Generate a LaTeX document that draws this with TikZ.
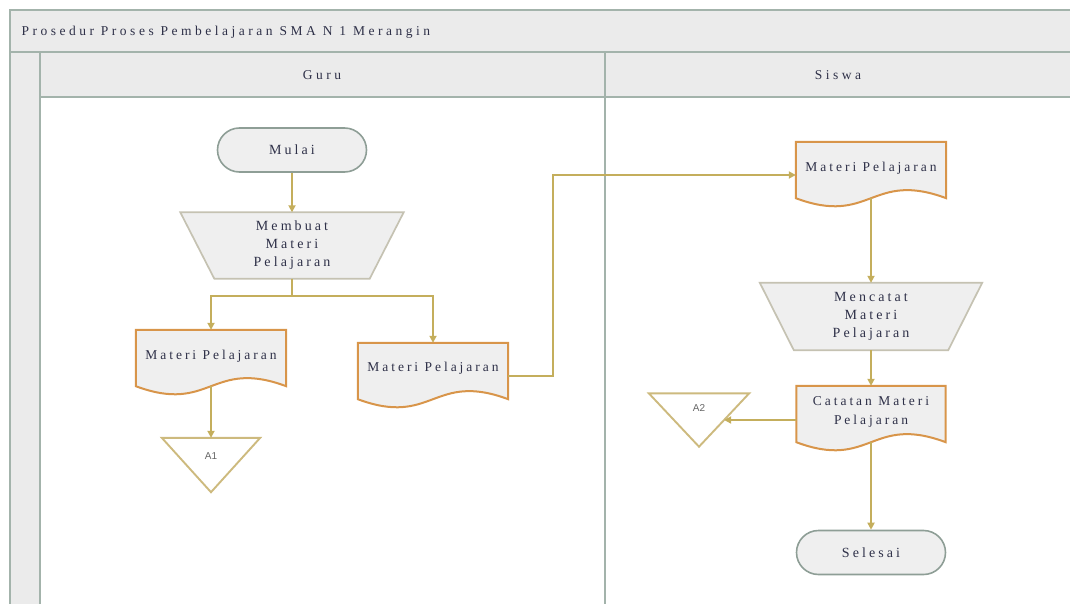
\documentclass[tikz,border=0pt]{standalone}
\usepackage{fontspec}
\setmainfont{Liberation Serif}
\newfontfamily\lblfont{Liberation Serif}[LetterSpace=22]
\newfontfamily\ttlfont{Liberation Serif}[LetterSpace=26]
\newfontfamily\smfont{Liberation Sans}
\usetikzlibrary{calc,arrows.meta}
\definecolor{lanebd}{HTML}{A3B3AB}
\definecolor{hdrfill}{HTML}{EBEBEB}
\definecolor{arrowc}{HTML}{C4AE5C}
\definecolor{docbd}{HTML}{D8954A}
\definecolor{shapefill}{HTML}{EFEFEF}
\definecolor{trapbd}{HTML}{C5C2B2}
\definecolor{termbd}{HTML}{8E9E96}
\definecolor{tribd}{HTML}{CDBA7E}
\definecolor{txt}{HTML}{2E3048}
\tikzset{
  lane/.style={draw=lanebd, line width=2pt},
  flow/.style={draw=arrowc, line width=1.9pt, -{Triangle[length=7pt,width=7pt]}},
  flowline/.style={draw=arrowc, line width=1.9pt},
  terminal/.style={draw=termbd, line width=1.6pt, fill=shapefill, rounded corners=22pt,
    minimum width=149pt, minimum height=44pt, font=\lblfont\fontsize{14}{16}\selectfont, text=txt},
  docbox/.style={minimum width=150pt, minimum height=56pt, inner sep=0pt},
  doctext/.style={align=center, inner sep=0pt, font=\lblfont\fontsize{13.5}{19}\selectfont, text=txt},
  docline/.style={draw=docbd, line width=2pt, fill=shapefill},
  trapbox/.style={minimum width=223pt, minimum height=66pt, inner sep=1pt},
  traptext/.style={align=center, inner sep=0pt, font=\lblfont\fontsize{14}{18}\selectfont, text=txt},
  trapline/.style={draw=trapbd, line width=1.7pt, fill=shapefill},
  tribox/.style={minimum width=98pt, minimum height=54pt, inner sep=0pt},
  triline/.style={draw=tribd, line width=1.9pt, fill=white},
  trilabel/.style={font=\smfont\fontsize{10}{11}\selectfont, text=black!60},
  hdrtext/.style={font=\ttlfont\fontsize{13.5}{15}\selectfont, text=txt}
}
\newcommand{\docoutline}[1]{%
  \path[docline] (#1.north west) -- (#1.north east) -- (#1.south east)
    .. controls ($(#1.south)+(0,28)$) and ($(#1.south)+(0,-28)$) .. (#1.south west) -- cycle;}
\newcommand{\trapoutline}[2]{%
  \path[trapline] (#1.north west) -- (#1.north east) -- ([xshift=-#2]#1.south east) -- ([xshift=#2]#1.south west) -- cycle;}
\newcommand{\trioutline}[1]{%
  \path[triline] (#1.north west) -- (#1.north east) -- (#1.south) -- cycle;}
\begin{document}
\begin{tikzpicture}[x=1pt,y=1pt]
\useasboundingbox (0,0) rectangle (1070,-604);
% swimlane frame
\fill[hdrfill] (10,-10) rectangle (1075,-97);
\fill[hdrfill] (10,-97) rectangle (40,-610);
\draw[lane] (1075,-10) -- (10,-10) -- (10,-610);
\draw[lane] (10,-52) -- (1075,-52);
\draw[lane] (40,-52) -- (40,-610);
\draw[lane] (40,-97) -- (1075,-97);
\draw[lane] (605,-52) -- (605,-610);
\node[hdrtext, anchor=west] (title) at (18,-32) {Prosedur Proses Pembelajaran SMA N 1 Merangin};
\node[hdrtext] (guru) at (322,-75) {Guru};
\node[hdrtext] (siswa) at (838,-75) {Siswa};
% Guru lane
\node[terminal] (mulai) at (292,-150) {Mulai};
\node[trapbox] (membuat) at (292,-245.5) {};
\trapoutline{membuat}{34pt}
\node[traptext] (membuatT) at (292,-245.5) {Membuat\\Materi\\Pelajaran};
\node[docbox] (d1) at (211,-358) {};
\docoutline{d1}
\node[doctext] (d1t) at ([yshift=-26pt]d1.north) {Materi Pelajaran};
\node[docbox] (d2) at (433,-371) {};
\docoutline{d2}
\node[doctext] (d2t) at ([yshift=-25pt]d2.north) {Materi Pelajaran};
\node[tribox] (a1) at (211,-465) {};
\trioutline{a1}
\node[trilabel] (a1t) at ([yshift=-18pt]a1.north) {A1};
% Siswa lane
\node[docbox] (d3) at (871,-170) {};
\docoutline{d3}
\node[doctext] (d3t) at ([yshift=-26pt]d3.north) {Materi Pelajaran};
\node[trapbox, minimum width=222pt, minimum height=67pt] (mencatat) at (871,-316.5) {};
\trapoutline{mencatat}{34pt}
\node[traptext] (mencatatT) at (871,-316.5) {Mencatat\\Materi\\Pelajaran};
\node[docbox, minimum width=149pt] (catatan) at (871,-414) {};
\docoutline{catatan}
\node[doctext] (catatant) at ([yshift=-26pt]catatan.north) {Catatan Materi\\Pelajaran};
\node[tribox, minimum width=100pt, minimum height=53pt] (a2) at (699,-420) {};
\trioutline{a2}
\node[trilabel] (a2t) at ([yshift=-15pt]a2.north) {A2};
\node[terminal] (selesai) at (871,-552.5) {Selesai};
% connectors
\draw[flow] (mulai.south) -- (membuat.north);
\draw[flowline] (membuat.south) -- ++(0,-17) coordinate (br);
\draw[flow] (br) -| (d1.north);
\draw[flow] (br) -| (d2.north);
\draw[flow] (d1.south) -- (a1.north);
\coordinate (bend) at (553,-170);
\draw[flow] ([yshift=-5pt]d2.east) -| ([yshift=-5pt]bend) -- ([yshift=-5pt]d3.west);
\draw[flow] (d3.south) -- (mencatat.north);
\draw[flow] (mencatat.south) -- (catatan.north);
\coordinate (a2edge) at ($(a2.north east)!0.5!(a2.south)$);
\draw[flow] ([yshift=-6pt]catatan.west) -- (a2edge);
\draw[flow] (catatan.south) -- (selesai.north);
\end{tikzpicture}
\end{document}
